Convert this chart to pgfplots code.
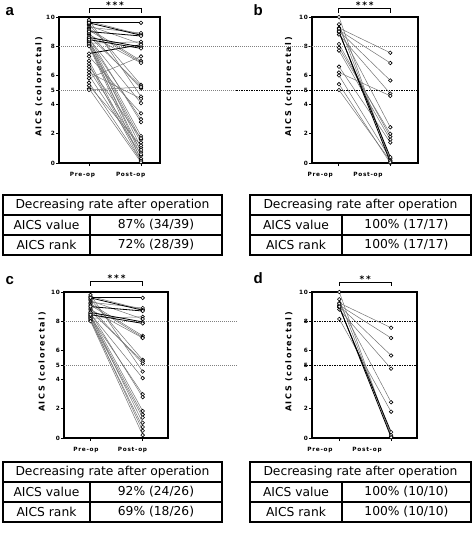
\documentclass[border=0pt]{standalone}
\usepackage{pgfplots}
\pgfplotsset{compat=1.18}
\usepackage{fontspec}
\setmainfont{DejaVu Sans}
\newfontfamily\spA{DejaVu Sans}[LetterSpace=12]
\newfontfamily\spB{DejaVu Sans}[LetterSpace=20]
\newfontfamily\arialf{Liberation Sans}
\newcommand\tickf{\spA\bfseries\fontsize{5.8}{6}\selectfont}
\newcommand\labf{\spB\bfseries\fontsize{8}{9}\selectfont}
\newcommand\starf{\spB\bfseries\fontsize{9}{9}\selectfont}
\newcommand\letf{\arialf\bfseries\fontsize{15}{15}\selectfont}
\newcommand\tabf{\fontsize{12.3}{14}\selectfont}

\pgfplotsset{
  panel/.style={
    scale only axis, height=146pt, ymin=0, ymax=10,
    ytick={0,2,4,5,6,8,10},
    xtick={0,1}, xticklabels={,},
    tick align=outside, xtick pos=left, ytick pos=left,
    axis line style={line width=1.2pt},
    every tick/.style={black, line width=1pt},
    major tick length=3pt,
    yticklabel style={font=\tickf, inner sep=0.8pt},
    xticklabel style={font=\tickf, yshift=-6pt},
    /pgf/number format/assume math mode=true,
    clip=false,
    ylabel={AICS (colorectal)},
    ylabel style={font=\labf, anchor=center},
    extra x tick style={major tick length=0pt},
  },
  gl/.style={draw=black!55, line width=0.5pt, mark=*, mark size=1.8pt,
    mark options={fill=white, draw=black, line width=0.6pt, solid}},
  kl/.style={draw=black, line width=0.8pt, mark=*, mark size=1.8pt,
    mark options={fill=white, draw=black, line width=0.6pt, solid}},
  refg/.style={draw=black!50, line width=1pt, dash pattern=on 1pt off 1pt, mark=none, forget plot},
  refk/.style={draw=black, line width=0.8pt, dash pattern=on 1.5pt off 1pt, mark=none, forget plot},
  brk/.style={draw=black, line width=1pt, mark=none, forget plot},
}
\newcommand\G[2]{\addplot[gl] coordinates {(0,#1) (1,#2)};}
\newcommand\K[2]{\addplot[kl] coordinates {(0,#1) (1,#2)};}

\newcommand\tbl[6]{%
  \draw[line width=1.1pt] (#1pt,-#4pt) rectangle (#2pt,{-#4pt-60pt});
  \draw[line width=1.1pt] (#1pt,{-#4pt-20pt}) -- (#2pt,{-#4pt-20pt});
  \draw[line width=1.1pt] (#1pt,{-#4pt-40pt}) -- (#2pt,{-#4pt-40pt});
  \draw[line width=1.1pt] (#3pt,{-#4pt-20pt}) -- (#3pt,{-#4pt-60pt});
  \node[font=\tabf] at ({(#1pt+#2pt)/2},{-#4pt-10pt}) {Decreasing rate after operation};
  \node[font=\tabf] at ({(#1pt+#3pt)/2},{-#4pt-30pt}) {AICS value};
  \node[font=\tabf] at ({(#3pt+#2pt)/2},{-#4pt-30pt}) {#5};
  \node[font=\tabf] at ({(#1pt+#3pt)/2},{-#4pt-50pt}) {AICS rank};
  \node[font=\tabf] at ({(#3pt+#2pt)/2},{-#4pt-50pt}) {#6};
}

\begin{document}
\begin{tikzpicture}
\path[use as bounding box] (0pt,0pt) rectangle (473pt,-533pt);

% ---------------- panel a ----------------
\begin{axis}[panel, at={(59pt,-163pt)}, anchor=south west, width=101pt,
  xmin=-0.577, xmax=1.365,
  ylabel style={at={(axis description cs:-0.2,0.52)}},
  extra x ticks={-0.125,0.80}, extra x tick labels={Pre-op,Post-op}]
\addplot[refg] coordinates {(-0.577,8) (2.83,8)};
\addplot[refg] coordinates {(-0.577,5) (2.83,5)};
\addplot[brk] coordinates {(0,10.27) (0,10.55) (1,10.55) (1,10.27)};
\node[font=\starf, anchor=base, yshift=0.5pt] at (axis cs:0.5,10.55) {***};
\G{9.7}{8.8} \G{9.3}{8.9} \G{8.2}{8.3} \G{9.4}{8.15}
\G{9.2}{7.0} \G{9.1}{6.9} \G{8.8}{6.85} \G{9.5}{5.35} \G{8.7}{5.25}
\G{8.9}{5.1} \G{9.8}{4.55} \G{8.5}{4.1} \G{8.3}{3.0} \G{8.55}{2.8}
\G{8.4}{1.85} \G{8.25}{1.6} \G{8.1}{1.4} \G{8.35}{1.05} \G{8.05}{0.75}
\G{8.15}{0.5} \G{8.0}{0.2}
\G{7.3}{3.4} \G{7.0}{0.3} \G{6.8}{0.1} \G{6.6}{1.7} \G{6.4}{0.9}
\G{6.2}{4.4} \G{6.0}{0.6} \G{5.8}{7.3} \G{5.5}{0.15} \G{5.3}{1.2}
\G{5.1}{0.05} \G{5.0}{5.2}
\K{9.6}{9.6} \K{9.6}{8.75} \K{9.0}{8.7} \K{8.6}{7.95} \K{8.45}{7.85}
\K{7.5}{8.1}
\end{axis}
\node[font=\letf, anchor=base west] at (2pt,-15pt) {a};
\tbl{3}{222}{90}{195}{87\% (34/39)}{72\% (28/39)}

% ---------------- panel b ----------------
\begin{axis}[panel, at={(312pt,-163pt)}, anchor=south west, width=106pt,
  xmin=-0.526, xmax=1.54,
  ylabel style={at={(axis description cs:-0.22,0.52)}},
  extra x ticks={-0.365,0.565}, extra x tick labels={Pre-op,Post-op}]
\addplot[refg] coordinates {(-2.0,8) (1.54,8)};
\addplot[refk] coordinates {(-2.0,5) (1.54,5)};
\addplot[brk] coordinates {(0,10.25) (0,10.55) (1,10.55) (1,10.25)};
\node[font=\starf, anchor=base, yshift=0.5pt] at (axis cs:0.5,10.55) {***};
\G{10.0}{0.1} \G{9.5}{0.2} \G{9.25}{7.55} \G{9.1}{6.85} \G{9.05}{5.65}
\G{8.8}{4.75} \G{9.2}{2.45} \G{8.15}{1.8}
\G{7.9}{2.0} \G{7.7}{1.6} \G{6.6}{1.4} \G{6.2}{4.6} \G{6.0}{0.3}
\G{5.4}{0.0} \G{5.0}{0.15}
\K{8.95}{0.4} \K{9.0}{0.05}
\end{axis}
\node[font=\letf, anchor=base west] at (250pt,-15pt) {b};
\tbl{250}{471}{342}{195}{100\% (17/17)}{100\% (17/17)}

% ---------------- panel c ----------------
\begin{axis}[panel, at={(64pt,-438pt)}, anchor=south west, width=104pt,
  xmin=-0.508, xmax=1.485,
  ylabel style={at={(axis description cs:-0.21,0.52)}},
  extra x ticks={-0.086,0.805}, extra x tick labels={Pre-op,Post-op}]
\addplot[refg] coordinates {(-0.508,8) (2.79,8)};
\addplot[refg] coordinates {(-0.508,5) (2.79,5)};
\addplot[brk] coordinates {(0,10.43) (0,10.75) (1,10.75) (1,10.43)};
\node[font=\starf, anchor=base, yshift=0pt] at (axis cs:0.5,10.75) {***};
\G{9.7}{8.8} \G{9.3}{8.9} \G{8.2}{8.3} \G{9.4}{8.15}
\G{9.2}{7.0} \G{9.1}{6.9} \G{8.8}{6.85} \G{9.5}{5.35} \G{8.7}{5.25}
\G{8.9}{5.1} \G{9.8}{4.55} \G{8.5}{4.1} \G{8.3}{3.0} \G{8.55}{2.8}
\G{8.4}{1.85} \G{8.25}{1.6} \G{8.1}{1.4} \G{8.35}{1.05} \G{8.05}{0.75}
\G{8.15}{0.5} \G{8.0}{0.2}
\K{9.6}{9.6} \K{9.6}{8.75} \K{9.0}{8.7} \K{8.6}{7.95} \K{8.45}{7.85}
\end{axis}
\node[font=\letf, anchor=base west] at (2pt,-284pt) {c};
\tbl{3}{222}{90}{462}{92\% (24/26)}{69\% (18/26)}

% ---------------- panel d ----------------
\begin{axis}[panel, at={(312pt,-438pt)}, anchor=south west, width=105pt,
  xmin=-0.527, xmax=1.50,
  ylabel style={at={(axis description cs:-0.22,0.52)}},
  extra x ticks={-0.373,0.536}, extra x tick labels={Pre-op,Post-op}]
\addplot[refk] coordinates {(-0.68,8) (1.50,8)};
\addplot[refk] coordinates {(-0.68,5) (1.50,5)};
\addplot[brk] coordinates {(0,10.43) (0,10.66) (1,10.66) (1,10.43)};
\node[font=\starf, anchor=base, yshift=0pt] at (axis cs:0.5,10.66) {**};
\G{10.0}{0.1} \G{9.5}{0.2} \G{9.25}{7.55} \G{9.1}{6.85} \G{9.05}{5.65}
\G{8.8}{4.75} \G{9.2}{2.45} \G{8.15}{1.8}
\K{8.95}{0.4} \K{9.0}{0.05}
\end{axis}
\node[font=\letf, anchor=base west] at (250pt,-283pt) {d};
\tbl{250}{471}{342}{462}{100\% (10/10)}{100\% (10/10)}
\end{tikzpicture}
\end{document}
